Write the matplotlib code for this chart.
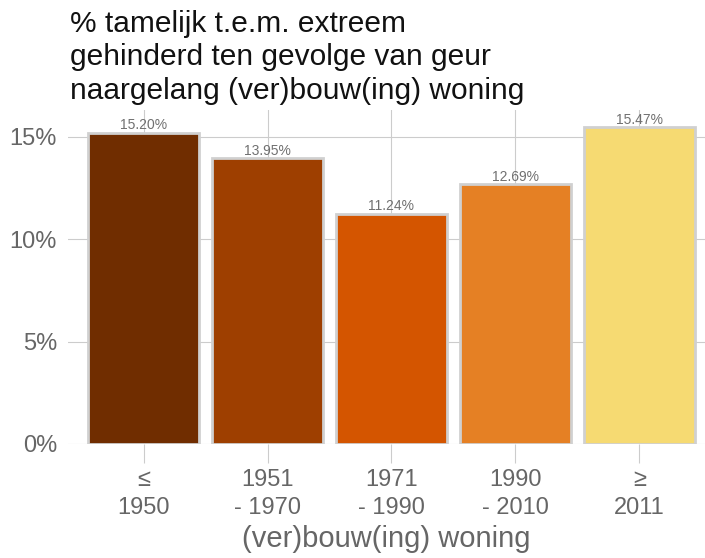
import matplotlib
matplotlib.use("Agg")
import matplotlib.pyplot as plt
from matplotlib.ticker import FuncFormatter

plt.rcParams['font.family'] = ['Liberation Sans', 'DejaVu Sans']

categories = ["\u2264\n1950", "1951\n- 1970", "1971\n- 1990", "1990\n- 2010", "\u2265\n2011"]
values = [15.20, 13.95, 11.24, 12.69, 15.47]
colors = ["#702D00", "#9E3F00", "#D45500", "#E58024", "#F6DA72"]

fig = plt.figure(figsize=(7.05, 5.58), dpi=100)
ax = fig.add_axes([68/705, (558-444)/558, 637/705, (444-110)/558])

x = list(range(1, len(values) + 1))
ax.bar(x, values, width=0.9, color=colors, edgecolor="#D0D0D0", linewidth=2, zorder=2)

for xi, v in zip(x, values):
    ax.text(xi, v + 0.02, "%.2f%%" % v, ha="center", va="bottom", fontsize=10, color="#707070", zorder=3)

ax.set_xlim(0.39, 5.53)
ax.set_ylim(0, 16.3)
ax.set_yticks([0, 5, 10, 15])
ax.yaxis.set_major_formatter(FuncFormatter(lambda v, p: "%d%%" % v))
ax.set_xticks(x)
ax.set_xticklabels(categories, linespacing=1.35)

ax.grid(True, color="#CCCCCC", linewidth=0.8, zorder=0)
ax.set_axisbelow(True)
for s in ax.spines.values():
    s.set_visible(False)

ax.tick_params(axis="x", colors="#CCCCCC", length=14, width=0.8, labelcolor="#666666", labelsize=17, pad=4)
ax.tick_params(axis="y", colors="#CCCCCC", length=0, labelcolor="#666666", labelsize=17, pad=8)

ax.set_xlabel("(ver)bouw(ing) woning", fontsize=21, color="#666666", labelpad=4)

fig.text(70/705, 1 - 10/558, "% tamelijk t.e.m. extreem\ngehinderd ten gevolge van geur\nnaargelang (ver)bouw(ing) woning",
         ha="left", va="top", fontsize=21.5, color="#111111", linespacing=1.24)

fig.savefig("out.png", dpi=100, facecolor="white")
